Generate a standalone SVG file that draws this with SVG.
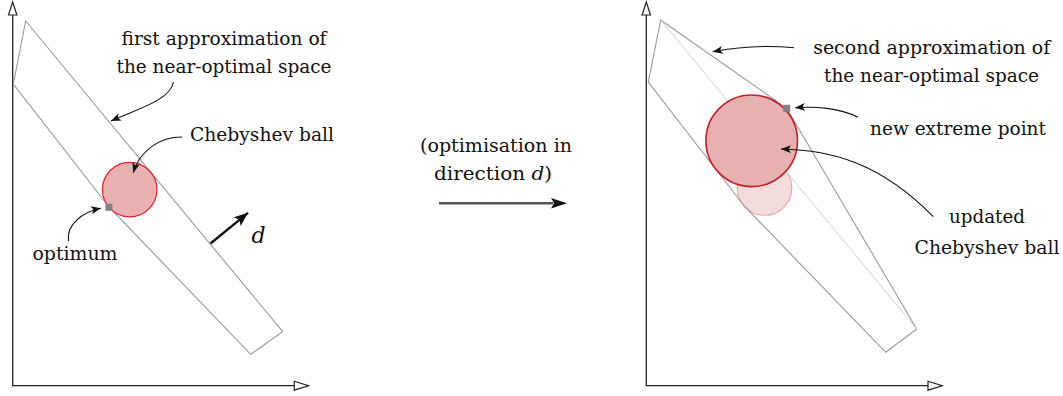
<svg xmlns="http://www.w3.org/2000/svg" width="1063" height="396" viewBox="0 0 1063 396">
<style>
text{font-family:'DejaVu Serif',serif;font-size:18.8px;fill:#111;text-anchor:middle}
.ax{stroke:#222;stroke-width:1.3;fill:none}
.axh{stroke:#222;stroke-width:1.2;fill:#fff}
.poly{stroke:#999;stroke-width:1.1;fill:none}
.old{stroke:#d0d0d0;stroke-width:1;fill:none}
.ball{fill:#e8b0b0;stroke:#e3202c;stroke-width:1.2}
.ball2{fill:#e8b0b0;stroke:#c0202a;stroke-width:1.6}
.fade{fill:#f5dcdc;stroke:#f0a0a4;stroke-width:1.1}
.pt{fill:#808080}
.con{stroke:#111;stroke-width:1.1;fill:none;marker-end:url(#ah)}
</style>
<defs>
<marker id="ah" markerUnits="userSpaceOnUse" markerWidth="12" markerHeight="10" refX="10" refY="4" orient="auto">
<path d="M0,0 L10,4 L0,8 L2.5,4 Z" fill="#111"/>
</marker>
<marker id="ahb" markerUnits="userSpaceOnUse" markerWidth="16" markerHeight="12" refX="14" refY="5.5" orient="auto">
<path d="M0,0 L14,5.5 L0,11 L3,5.5 Z" fill="#111"/>
</marker>
</defs>

<g id="left-axes">
<line class="ax" x1="12.7" y1="385.7" x2="12.7" y2="15"/>
<path class="axh" d="M8.5,15 L16.9,15 L12.7,2 Z"/>
<line class="ax" x1="12" y1="385.7" x2="294.3" y2="385.7"/>
<path class="axh" d="M294.3,381.3 L294.3,390.1 L308.5,385.7 Z"/>
</g>
<g id="first-approximation">
<polygon class="poly" points="25.7,21 282.7,331.7 250.7,354.3 109,207 13.3,84"/>
</g>
<g id="chebyshev-ball">
<circle class="ball" cx="129.7" cy="189.6" r="27.3"/>
</g>
<g id="optimum">
<rect class="pt" x="105.5" y="203.8" width="7" height="7"/>
</g>
<g id="direction-d">
<line x1="210.5" y1="243.5" x2="248" y2="212.8" stroke="#111" stroke-width="2.3" marker-end="url(#ahb)"/>
<text x="258.5" y="243" style="font-style:italic;font-size:22px">d</text>
</g>
<g id="label-first">
<text x="224" y="44.5" textLength="205" lengthAdjust="spacingAndGlyphs">first approximation of</text>
<text x="224" y="73" textLength="215" lengthAdjust="spacingAndGlyphs">the near-optimal space</text>
</g>
<g id="label-ball">
<text x="262" y="141" textLength="144" lengthAdjust="spacingAndGlyphs">Chebyshev ball</text>
</g>
<g id="label-optimum">
<text x="75" y="260" textLength="85" lengthAdjust="spacingAndGlyphs">optimum</text>
</g>

<g id="step">
<text x="496" y="152" textLength="152" lengthAdjust="spacingAndGlyphs">(optimisation in</text>
<text x="493" y="180" textLength="118" lengthAdjust="spacingAndGlyphs">direction <tspan style="font-style:italic">d</tspan>)</text>
<line x1="439" y1="203.3" x2="553" y2="203.3" stroke="#555" stroke-width="2.6"/>
<path d="M551,198 L567,203.3 L551,208.6 L554,203.3 Z" fill="#111"/>
</g>

<g id="right-axes">
<line class="ax" x1="646.3" y1="385.7" x2="646.3" y2="15"/>
<path class="axh" d="M642.1,15 L650.5,15 L646.3,2 Z"/>
<line class="ax" x1="645.7" y1="385.7" x2="928" y2="385.7"/>
<path class="axh" d="M928,381.3 L928,390.1 L942.2,385.7 Z"/>
</g>
<g id="old-ball">
<circle class="fade" cx="764.5" cy="188" r="27.3"/>
</g>
<g id="second-approximation">
<polygon class="poly" points="660.7,20 786.7,108.3 916.7,329 885.7,352.3 743.8,205.5 648.3,82"/>
<line class="old" x1="660.7" y1="20" x2="916.7" y2="329"/>
</g>
<g id="updated-ball">
<circle class="ball2" cx="751.7" cy="140.8" r="45.8"/>
</g>
<g id="new-extreme-point">
<rect class="pt" x="783.2" y="104.8" width="7" height="7"/>
</g>
<g id="label-second">
<text x="931.7" y="53.5" textLength="237" lengthAdjust="spacingAndGlyphs">second approximation of</text>
<text x="931.5" y="82" textLength="215" lengthAdjust="spacingAndGlyphs">the near-optimal space</text>
</g>
<g id="label-extreme">
<text x="958" y="134.5" textLength="176" lengthAdjust="spacingAndGlyphs">new extreme point</text>
</g>
<g id="label-updated">
<text x="987" y="223" textLength="76" lengthAdjust="spacingAndGlyphs">updated</text>
<text x="987" y="253.5" textLength="145" lengthAdjust="spacingAndGlyphs">Chebyshev ball</text>
</g>

<g id="connectors">
<path class="con" d="M173.5,82 C170,100 140,108 111,121"/>
<path class="con" d="M182,137 C160,137 140,150 133.3,172.7"/>
<path class="con" d="M68.5,241 C66,225 82,212 101,208.3"/>
<path class="con" d="M794,47.7 C765,45 738,47 712.7,51.7"/>
<path class="con" d="M858,117.3 C840,108 815,106 795,107.8"/>
<path class="con" d="M933.3,216.7 C880,162 830,150 781,149"/>
</g>
</svg>
